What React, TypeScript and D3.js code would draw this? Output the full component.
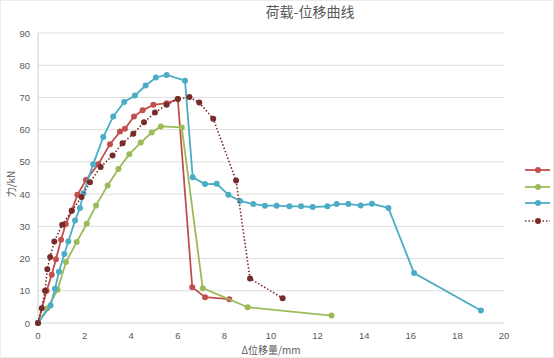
import React from "react";
import * as d3 from "d3";

const seriesNames = ["试件1", "试件2", "试件3", "试件4"];
const seriesColors = ["#C0504D", "#9BBB59", "#4BACC6", "#772C2A"];

const redX = [0, 0.37, 0.59, 0.77, 0.99, 1.19, 1.45, 1.69, 2.06, 2.59, 3.09, 3.52, 3.73, 4.12, 4.49, 4.95, 5.52, 6.0, 6.62, 7.17, 8.21];
const redY = [0, 10.0, 15.0, 19.8, 25.8, 30.7, 34.9, 39.8, 44.4, 49.3, 55.5, 59.4, 60.3, 64.1, 66.0, 67.7, 68.2, 69.5, 11.1, 8.0, 7.4];

const greenX = [0, 0.4, 0.84, 1.2, 1.66, 2.09, 2.49, 2.99, 3.45, 3.92, 4.41, 4.88, 5.27, 6.17, 7.07, 9.0, 12.6];
const greenY = [0, 4.6, 10.3, 18.9, 25.1, 30.8, 36.5, 42.7, 47.8, 52.4, 56.0, 59.1, 61.0, 60.7, 10.8, 4.9, 2.3];

const blueX = [0, 0.54, 0.73, 0.9, 1.13, 1.3, 1.59, 1.8, 1.95, 2.37, 2.8, 3.23, 3.7, 4.16, 4.62, 5.06, 5.52, 6.31, 6.64, 7.17, 7.67, 8.17, 8.67, 9.24, 9.74, 10.24, 10.79, 11.29, 11.79, 12.42, 12.82, 13.32, 13.85, 14.33, 15.04, 16.14, 19.01];
const blueY = [0, 5.4, 10.6, 15.9, 21.4, 25.3, 31.8, 35.7, 40.3, 49.3, 57.7, 64.1, 68.6, 70.6, 73.7, 76.2, 77.0, 75.2, 45.2, 43.1, 43.2, 39.8, 37.9, 36.9, 36.4, 36.4, 36.2, 36.2, 36.0, 36.2, 36.9, 36.9, 36.5, 37.0, 35.7, 15.5, 3.9];

const darkX = [0, 0.16, 0.3, 0.4, 0.52, 0.7, 1.04, 1.45, 1.87, 2.23, 2.69, 3.2, 3.63, 4.09, 4.55, 5.02, 5.52, 6.0, 6.5, 6.92, 7.52, 8.5, 9.1, 10.5];
const darkY = [0, 4.6, 10.0, 16.7, 20.5, 25.3, 30.5, 34.8, 39.1, 43.7, 48.4, 52.0, 55.8, 58.7, 62.3, 65.3, 67.7, 69.5, 70.1, 68.4, 63.4, 44.2, 13.8, 7.7];

const xTicks = [0, 2, 4, 6, 8, 10, 12, 14, 16, 18, 20];
const yTicks = [0, 10, 20, 30, 40, 50, 60, 70, 80, 90];

const W = 554;
const H = 358;
const FONT = "'Liberation Sans', 'Noto Sans CJK SC', sans-serif";

export default function App() {
  const x = d3.scaleLinear().domain([0, 20]).range([38, 504]);
  const y = d3.scaleLinear().domain([0, 90]).range([323, 33]);

  const series = [
    { xs: redX, ys: redY, dashed: false },
    { xs: greenX, ys: greenY, dashed: false },
    { xs: blueX, ys: blueY, dashed: false },
    { xs: darkX, ys: darkY, dashed: true },
  ].map((s, i) => ({
    ...s,
    color: seriesColors[i],
    name: seriesNames[i],
    pts: s.xs.map((v, j) => [v, s.ys[j]] as [number, number]),
  }));

  const line = d3
    .line<[number, number]>()
    .x((d) => x(d[0]))
    .y((d) => y(d[1]));

  const legendY = [170, 187, 203, 221];

  return (
    <svg
      width={W}
      height={H}
      style={{ position: "absolute", left: 0, top: 0, background: "#fff" }}
      fontFamily={FONT}
    >
      <rect x={0.5} y={0.5} width={W - 1} height={H - 1} fill="#fff" stroke="#ececec" />
      <text x={310} y={17} textAnchor="middle" fontSize={14} fill="#595959" fontFamily="'Noto Sans CJK SC', sans-serif">
        荷载-位移曲线
      </text>
      {yTicks.map((t) => (
        <g key={"y" + t}>
          <line x1={x(0)} x2={x(20)} y1={y(t)} y2={y(t)} stroke={t === 0 ? "#d0d0d0" : "#dedede"} strokeWidth={1} />
          <text x={30} y={y(t) + 3.5} textAnchor="end" fontSize={9.5} fill="#595959">
            {t}
          </text>
        </g>
      ))}
      <line x1={x(0)} x2={x(0)} y1={y(90)} y2={y(0)} stroke="#d0d0d0" />
      {xTicks.map((t) => (
        <text key={"x" + t} x={x(t)} y={339} textAnchor="middle" fontSize={9.5} fill="#595959">
          {t}
        </text>
      ))}
      <text x={271} y={354} textAnchor="middle" fontSize={10} fill="#595959" fontFamily="'Noto Sans CJK SC', sans-serif">
        Δ位移量/mm
      </text>
      <text
        transform={`translate(15,184) rotate(-90)`}
        textAnchor="middle"
        fontSize={10}
        fill="#595959"
        fontFamily="'Noto Sans CJK SC', sans-serif"
      >
        力/kN
      </text>
      {series.map((s, i) => (
        <g key={"s" + i}>
          <path
            d={line(s.pts) || ""}
            fill="none"
            stroke={s.color}
            strokeWidth={s.dashed ? 1.6 : 1.8}
            strokeDasharray={s.dashed ? "1.5 2" : undefined}
          />
          {s.pts.map((p, j) => (
            <circle key={j} cx={x(p[0])} cy={y(p[1])} r={3} fill={s.color} />
          ))}
        </g>
      ))}
      {series.map((s, i) => (
        <g key={"l" + i}>
          <line
            x1={525}
            x2={550}
            y1={legendY[i]}
            y2={legendY[i]}
            stroke={s.color}
            strokeWidth={s.dashed ? 1.6 : 1.8}
            strokeDasharray={s.dashed ? "1.5 2" : undefined}
          />
          <circle cx={538} cy={legendY[i]} r={3} fill={s.color} />
          <text x={554} y={legendY[i] + 3.5} fontSize={9.5} fill="#595959">
            {s.name}
          </text>
        </g>
      ))}
    </svg>
  );
}
